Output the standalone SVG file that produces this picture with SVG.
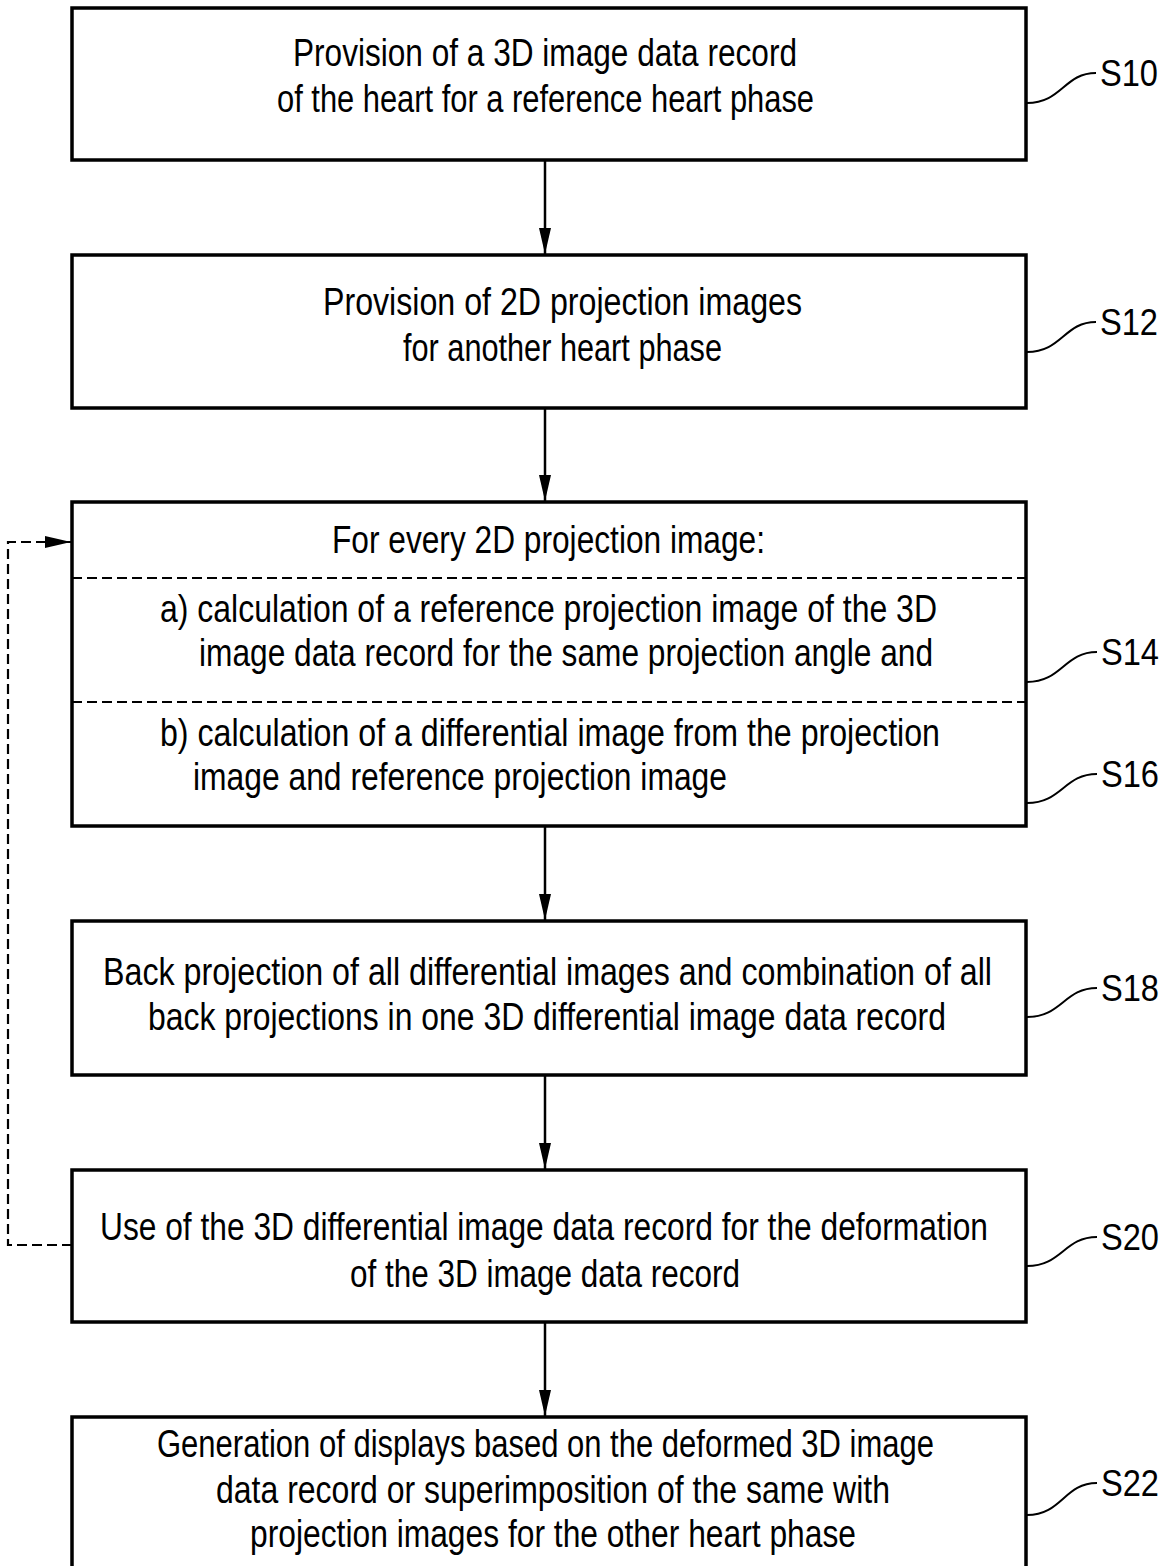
<svg xmlns="http://www.w3.org/2000/svg" width="1169" height="1566" viewBox="0 0 1169 1566">
<style>
.box{fill:#fff;stroke:#000;stroke-width:3.5}
.t{font-family:"Liberation Sans",Arial,sans-serif;font-size:38px;fill:#000}
.lbl{font-family:"Liberation Sans",Arial,sans-serif;font-size:37px;fill:#000}
.con{stroke:#000;stroke-width:2.5;fill:none}
.dash{stroke:#000;stroke-width:2.2;fill:none;stroke-dasharray:10,5}
.lead{stroke:#000;stroke-width:2;fill:none}
</style>
<defs>
<marker id="arr" markerWidth="26" markerHeight="14" refX="26" refY="7" orient="auto" markerUnits="userSpaceOnUse" viewBox="0 0 26 14">
<path d="M0,1 L26,7 L0,13 Z" fill="#000"/>
</marker>
</defs>

<g id="connectors">
<line class="con" x1="545" y1="160" x2="545" y2="254" marker-end="url(#arr)"/>
<line class="con" x1="545" y1="408" x2="545" y2="501" marker-end="url(#arr)"/>
<line class="con" x1="545" y1="826" x2="545" y2="920" marker-end="url(#arr)"/>
<line class="con" x1="545" y1="1075" x2="545" y2="1169" marker-end="url(#arr)"/>
<line class="con" x1="545" y1="1322" x2="545" y2="1416" marker-end="url(#arr)"/>
<path class="dash" d="M72,1245 H8 V542 H71" marker-end="url(#arr)"/>
</g>

<g id="S10">
<rect class="box" x="72" y="8" width="954" height="152"/>
<text class="t" x="293" y="66" textLength="504" lengthAdjust="spacingAndGlyphs">Provision of a 3D image data record</text>
<text class="t" x="277" y="112" textLength="537" lengthAdjust="spacingAndGlyphs">of the heart for a reference heart phase</text>
<path class="lead" d="M1027,103 C1062,103 1064,73 1096,73"/>
<text class="lbl" x="1100" y="86" textLength="58" lengthAdjust="spacingAndGlyphs">S10</text>
</g>

<g id="S12">
<rect class="box" x="72" y="255" width="954" height="153"/>
<text class="t" x="323" y="315" textLength="479" lengthAdjust="spacingAndGlyphs">Provision of 2D projection images</text>
<text class="t" x="403" y="361" textLength="319" lengthAdjust="spacingAndGlyphs">for another heart phase</text>
<path class="lead" d="M1027,352 C1062,352 1064,322 1096,322"/>
<text class="lbl" x="1100" y="335" textLength="58" lengthAdjust="spacingAndGlyphs">S12</text>
</g>

<g id="S14-S16">
<rect class="box" x="72" y="502" width="954" height="324"/>
<line class="dash" x1="72" y1="578" x2="1026" y2="578"/>
<line class="dash" x1="72" y1="702" x2="1026" y2="702"/>
<text class="t" x="332" y="553" textLength="433" lengthAdjust="spacingAndGlyphs">For every 2D projection image:</text>
<text class="t" x="160" y="622" textLength="777" lengthAdjust="spacingAndGlyphs">a) calculation of a reference projection image of the 3D</text>
<text class="t" x="199" y="666" textLength="734" lengthAdjust="spacingAndGlyphs">image data record for the same projection angle and</text>
<text class="t" x="160" y="746" textLength="780" lengthAdjust="spacingAndGlyphs">b) calculation of a differential image from the projection</text>
<text class="t" x="193" y="790" textLength="534" lengthAdjust="spacingAndGlyphs">image and reference projection image</text>
<path class="lead" d="M1027,682 C1062,682 1064,652 1097,652"/>
<text class="lbl" x="1101" y="665" textLength="58" lengthAdjust="spacingAndGlyphs">S14</text>
<path class="lead" d="M1027,803 C1062,803 1064,774 1097,774"/>
<text class="lbl" x="1101" y="787" textLength="58" lengthAdjust="spacingAndGlyphs">S16</text>
</g>

<g id="S18">
<rect class="box" x="72" y="921" width="954" height="154"/>
<text class="t" x="103" y="985" textLength="889" lengthAdjust="spacingAndGlyphs">Back projection of all differential images and combination of all</text>
<text class="t" x="148" y="1030" textLength="798" lengthAdjust="spacingAndGlyphs">back projections in one 3D differential image data record</text>
<path class="lead" d="M1027,1017 C1062,1017 1064,988 1097,988"/>
<text class="lbl" x="1101" y="1001" textLength="58" lengthAdjust="spacingAndGlyphs">S18</text>
</g>

<g id="S20">
<rect class="box" x="72" y="1170" width="954" height="152"/>
<text class="t" x="100" y="1240" textLength="888" lengthAdjust="spacingAndGlyphs">Use of the 3D differential image data record for the deformation</text>
<text class="t" x="350" y="1287" textLength="390" lengthAdjust="spacingAndGlyphs">of the 3D image data record</text>
<path class="lead" d="M1027,1266 C1062,1266 1064,1237 1097,1237"/>
<text class="lbl" x="1101" y="1250" textLength="58" lengthAdjust="spacingAndGlyphs">S20</text>
</g>

<g id="S22">
<rect class="box" x="72" y="1417" width="954" height="170"/>
<text class="t" x="157" y="1457" textLength="777" lengthAdjust="spacingAndGlyphs">Generation of displays based on the deformed 3D image</text>
<text class="t" x="216" y="1503" textLength="674" lengthAdjust="spacingAndGlyphs">data record or superimposition of the same with</text>
<text class="t" x="250" y="1547" textLength="606" lengthAdjust="spacingAndGlyphs">projection images for the other heart phase</text>
<path class="lead" d="M1027,1515 C1062,1515 1064,1483 1097,1483"/>
<text class="lbl" x="1101" y="1496" textLength="58" lengthAdjust="spacingAndGlyphs">S22</text>
</g>
</svg>
